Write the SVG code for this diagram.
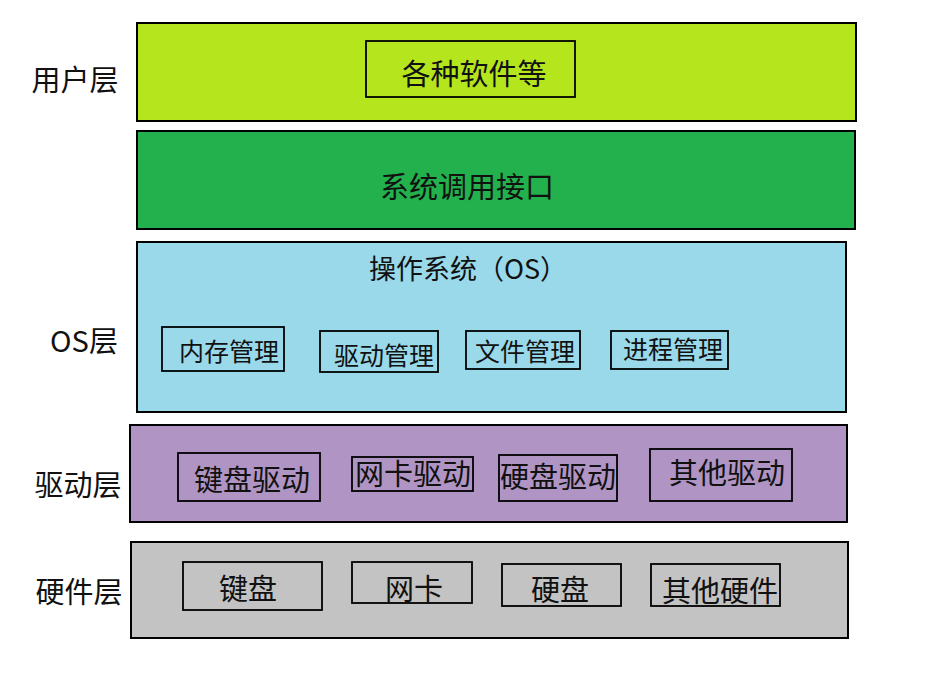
<svg xmlns="http://www.w3.org/2000/svg" width="932" height="689" viewBox="0 0 932 689">
<style>
text{font-family:"Noto Sans CJK SC","Microsoft YaHei",sans-serif;fill:#111;dominant-baseline:central;text-anchor:middle}
.layer{stroke:#000;stroke-width:2}
.box{fill:none;stroke:#000;stroke-width:1.8}
.lbl{font-size:29px}
.t28{font-size:29px}
.t25{font-size:25px}
.t27{font-size:27px}
</style>
<rect width="932" height="689" fill="#fff"/>
<g id="labels">
<text class="lbl" x="75" y="78">用户层</text>
<text class="lbl" x="84" y="339">OS层</text>
<text class="lbl" x="78" y="483">驱动层</text>
<text class="lbl" x="79" y="590">硬件层</text>
</g>
<g id="user-layer">
<rect class="layer" x="137" y="23" width="719" height="98" fill="#b5e61d"/>
</g>
<g id="software">
<rect class="box" x="366" y="41" width="209" height="56"/>
<text class="t28" x="474" y="72">各种软件等</text>
</g>
<g id="syscall-layer">
<rect class="layer" x="137" y="131" width="718" height="98" fill="#22b14c"/>
<text class="t28" x="467" y="185">系统调用接口</text>
</g>
<g id="os-layer">
<rect class="layer" x="137" y="242" width="709" height="170" fill="#99d9ea"/>
<text class="t27" x="468" y="267">操作系统（OS）</text>
</g>
<g id="mem">
<rect class="box" x="162" y="327" width="122" height="44"/>
<text class="t25" x="229" y="350">内存管理</text>
</g>
<g id="drvmgr">
<rect class="box" x="320" y="331" width="118" height="41"/>
<text class="t25" x="384" y="354">驱动管理</text>
</g>
<g id="file">
<rect class="box" x="466" y="331" width="114" height="38"/>
<text class="t25" x="525" y="350">文件管理</text>
</g>
<g id="proc">
<rect class="box" x="611" y="331" width="117" height="38"/>
<text class="t25" x="673" y="348">进程管理</text>
</g>
<g id="driver-layer">
<rect class="layer" x="130" y="425" width="717" height="97" fill="#b095c4"/>
</g>
<g id="kbd-drv">
<rect class="box" x="178" y="453" width="142" height="48"/>
<text class="t28" x="252" y="478">键盘驱动</text>
</g>
<g id="nic-drv">
<rect class="box" x="352" y="457" width="121" height="34"/>
<text class="t28" x="413" y="472">网卡驱动</text>
</g>
<g id="hdd-drv">
<rect class="box" x="499" y="455" width="118" height="46"/>
<text class="t28" x="558" y="475">硬盘驱动</text>
</g>
<g id="other-drv">
<rect class="box" x="650" y="449" width="142" height="52"/>
<text class="t28" x="727" y="471">其他驱动</text>
</g>
<g id="hw-layer">
<rect class="layer" x="131" y="542" width="717" height="96" fill="#c3c3c3"/>
</g>
<g id="kbd">
<rect class="box" x="183" y="562" width="139" height="48"/>
<text class="t28" x="248" y="587">键盘</text>
</g>
<g id="nic">
<rect class="box" x="352" y="562" width="120" height="41"/>
<text class="t28" x="414" y="587">网卡</text>
</g>
<g id="hdd">
<rect class="box" x="502" y="564" width="119" height="42"/>
<text class="t28" x="560" y="588">硬盘</text>
</g>
<g id="other-hw">
<rect class="box" x="651" y="564" width="129" height="42"/>
<text class="t28" x="720" y="589">其他硬件</text>
</g>
<g id="connectors"></g>
</svg>
